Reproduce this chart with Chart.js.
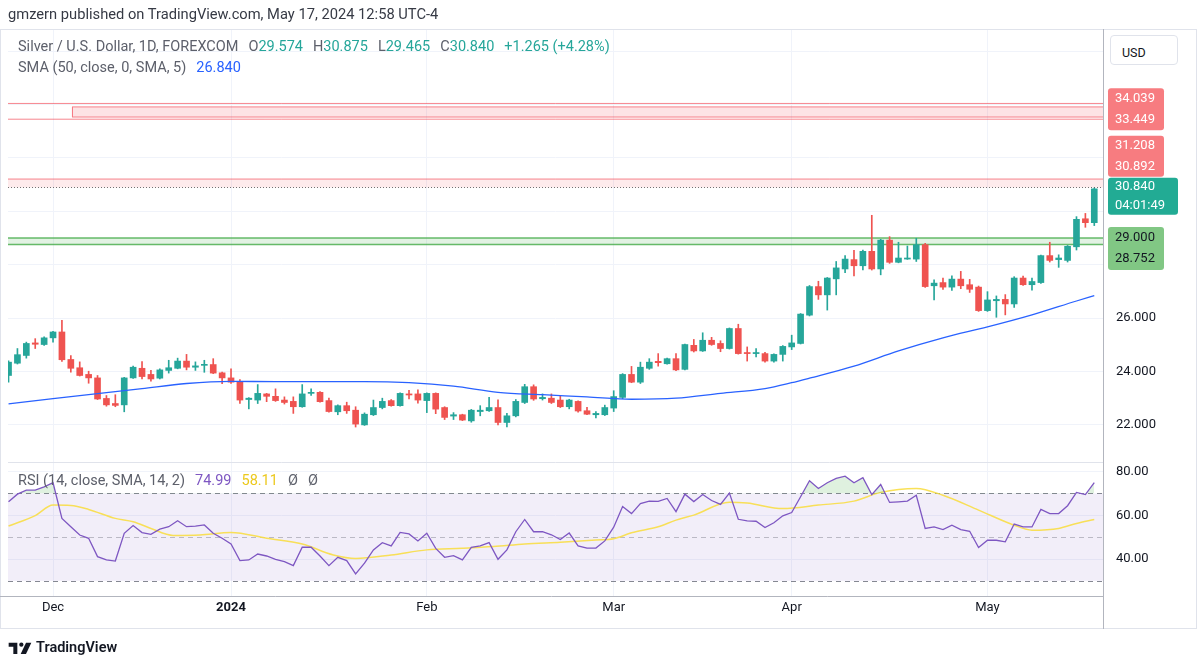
<!DOCTYPE html>
<html>
<head>
<meta charset="utf-8">
<title>XAGUSD 1D</title>
<script src="https://cdn.jsdelivr.net/npm/chart.js@4.4.1/dist/chart.umd.min.js"></script>
<style>
  body { margin: 0; background: #fff; font-family: Roboto, "Noto Sans", sans-serif; }
  #wrap { position: relative; width: 1197px; height: 668px; overflow: hidden; }
  #chart { position: absolute; left: 0; top: 0; }
  .t { position: absolute; white-space: nowrap; line-height: 1; }
  .t span + span { margin-left: 10px; }
  .gray { color: #5d606b; }
  .up { color: #26a69a; }
  .blue { color: #2962ff; }
  .purple { color: #7e57c2; }
  .yellow { color: #ecc91e; }
  .lg { font-size: 14.5px; }
  #usd { position: absolute; left: 1110px; top: 35px; width: 68px; height: 30px; box-sizing: border-box;
         border: 1px solid #e0e3eb; border-radius: 4px; background: #fff; font-size: 12.5px; color: #131722;
         padding: 9px 0 0 11px; }
</style>
</head>
<body>
<div id="wrap">
  <canvas id="chart" width="1197" height="668"></canvas>

  <div class="t" style="left:8px;top:7px;font-size:14.7px;color:#363a45">gmzern published on TradingView.com, May 17, 2024 12:58 UTC-4</div>

  <div class="t gray lg" style="left:18px;top:40px"><span>Silver / U.S. Dollar, 1D, FOREXCOM</span><span>O<b class="up" style="font-weight:normal">29.574</b></span><span>H<b class="up" style="font-weight:normal">30.875</b></span><span>L<b class="up" style="font-weight:normal">29.465</b></span><span>C<b class="up" style="font-weight:normal">30.840</b></span><span class="up">+1.265 (+4.28%)</span></div>
  <div class="t gray lg" style="left:18px;top:61px"><span>SMA (50, close, 0, SMA, 5)</span><span class="blue">26.840</span></div>

  <div class="t gray lg" style="left:18px;top:474px"><span>RSI (14, close, SMA, 14, 2)</span><span class="purple">74.99</span><span class="yellow">58.11</span><span>Ø</span><span>Ø</span></div>

  <div id="usd">USD</div>

  <div class="t" style="left:8px;top:641px">
    <svg width="24" height="14" viewBox="0 0 36 20"><path d="M14 2H1v6h7v11h6V2z" fill="#131722"/><circle cx="20" cy="5" r="3.2" fill="#131722"/><path d="M27 2h8l-8 17h-8z" fill="#131722"/></svg>
  </div>
  <div class="t" style="left:36px;top:641px;font-size:14.5px;font-weight:600;color:#131722">TradingView</div>
</div>

<script>
// daily candles, Nov 24 2023 .. May 17 2024 (index 0..122)
const opens = [23.85, 24.31, 24.60, 25.07, 25.01, 25.26, 25.48, 24.45, 24.14, 23.89,
  23.76, 22.99, 22.80, 22.75, 23.76, 24.12, 23.89, 23.75, 24.04, 24.12,
  24.39, 24.16, 24.23, 24.26, 23.95, 23.76, 23.63, 22.95, 22.93, 23.16,
  23.07, 22.93, 22.88, 22.68, 23.18, 23.22, 22.91, 22.49, 22.72, 22.55,
  22.00, 22.38, 22.65, 22.91, 22.72, 23.16, 23.16, 22.91, 23.18, 22.65,
  22.33, 22.38, 22.15, 22.50, 22.53, 22.65, 22.09, 22.34, 22.84, 23.43,
  22.98, 23.00, 22.93, 22.68, 22.88, 22.53, 22.38, 22.38, 22.63, 23.03,
  23.89, 23.60, 24.12, 24.38, 24.29, 24.48, 24.08, 24.98, 24.77, 25.17,
  25.05, 24.86, 25.61, 24.71, 24.67, 24.67, 24.39, 24.64, 24.92, 25.05,
  26.11, 27.18, 26.87, 27.47, 27.84, 28.19, 27.96, 28.50, 27.84, 28.92,
  28.09, 28.21, 28.21, 28.75, 27.21, 27.33, 27.16, 27.46, 27.25, 27.16,
  26.28, 26.65, 26.70, 26.53, 27.50, 27.25, 27.33, 28.34, 28.19, 28.16,
  28.67, 29.72, 29.574];
const highs = [24.40, 24.86, 25.10, 25.23, 25.30, 25.50, 25.92, 24.60, 24.36, 24.01,
  23.85, 23.10, 23.13, 23.78, 24.20, 24.37, 24.04, 24.10, 24.42, 24.50,
  24.64, 24.36, 24.42, 24.48, 23.98, 24.10, 23.70, 23.02, 23.51, 23.18,
  23.35, 23.05, 23.05, 23.51, 23.35, 23.25, 23.00, 22.75, 22.85, 22.68,
  22.45, 22.93, 23.00, 22.95, 23.20, 23.29, 23.31, 23.20, 23.20, 22.68,
  22.46, 22.40, 22.58, 22.72, 23.03, 22.94, 22.43, 22.95, 23.52, 23.50,
  23.16, 23.16, 23.10, 22.96, 22.90, 22.66, 22.50, 22.74, 23.28, 23.92,
  24.19, 24.35, 24.48, 24.67, 24.50, 24.67, 25.03, 25.20, 25.45, 25.28,
  25.15, 25.63, 25.77, 24.92, 24.86, 24.72, 24.66, 24.97, 25.36, 26.17,
  27.22, 27.38, 27.52, 28.12, 28.34, 28.54, 28.55, 29.85, 28.95, 29.05,
  28.84, 28.70, 28.99, 28.80, 27.43, 27.50, 27.58, 27.75, 27.45, 27.20,
  26.99, 26.83, 26.88, 27.55, 27.57, 27.50, 28.36, 28.84, 28.37, 28.72,
  29.80, 29.92, 30.875];
const lows = [23.60, 24.28, 24.50, 24.86, 24.98, 25.10, 24.38, 23.97, 23.83, 23.56,
  22.95, 22.70, 22.68, 22.49, 23.74, 23.72, 23.64, 23.72, 23.94, 24.10,
  24.06, 24.04, 23.97, 23.92, 23.54, 23.55, 22.80, 22.60, 22.80, 22.87,
  22.88, 22.78, 22.43, 22.66, 23.10, 22.85, 22.48, 22.38, 22.43, 21.92,
  21.98, 22.35, 22.60, 22.70, 22.70, 22.97, 22.81, 22.46, 22.42, 22.20,
  22.20, 22.16, 22.10, 22.34, 22.50, 22.00, 21.92, 22.30, 22.80, 22.92,
  22.93, 22.80, 22.65, 22.60, 22.48, 22.38, 22.26, 22.35, 22.50, 22.98,
  23.58, 23.55, 24.08, 24.20, 24.27, 24.03, 24.06, 24.73, 24.75, 24.98,
  24.74, 24.84, 24.65, 24.39, 24.55, 24.35, 24.35, 24.39, 24.82, 25.03,
  26.08, 26.70, 26.30, 26.87, 27.70, 27.58, 27.80, 27.80, 27.62, 28.05,
  28.07, 28.20, 28.12, 27.15, 26.68, 27.07, 27.04, 27.10, 26.96, 26.25,
  26.25, 26.03, 26.12, 26.40, 27.22, 27.05, 27.30, 28.10, 27.90, 28.10,
  28.55, 29.40, 29.465];
const closes = [24.35, 24.63, 25.05, 25.02, 25.26, 25.48, 24.44, 24.12, 23.85, 23.76,
  22.97, 22.75, 22.73, 23.76, 24.16, 23.81, 23.72, 24.06, 24.14, 24.39,
  24.16, 24.21, 24.26, 23.94, 23.76, 23.60, 22.93, 23.00, 23.18, 23.07,
  22.91, 22.84, 22.68, 23.16, 23.22, 22.87, 22.50, 22.72, 22.53, 22.03,
  22.40, 22.65, 22.88, 22.72, 23.18, 23.12, 22.93, 23.18, 22.59, 22.28,
  22.38, 22.18, 22.55, 22.55, 22.65, 22.09, 22.34, 22.88, 23.43, 22.97,
  23.03, 22.84, 22.68, 22.93, 22.52, 22.40, 22.43, 22.65, 23.06, 23.89,
  23.60, 24.16, 24.35, 24.33, 24.48, 24.06, 25.01, 24.77, 25.17, 25.01,
  24.86, 25.61, 24.67, 24.67, 24.71, 24.39, 24.64, 24.94, 25.07, 26.15,
  27.18, 26.87, 27.50, 27.88, 28.21, 27.96, 28.50, 27.84, 28.92, 28.09,
  28.25, 28.25, 28.75, 27.18, 27.31, 27.16, 27.46, 27.21, 27.08, 26.28,
  26.68, 26.70, 26.53, 27.50, 27.25, 27.37, 28.34, 28.16, 28.25, 28.69,
  29.70, 29.574, 30.840];

// SMA(50) at these bar indices
const smaIdx = [0, 5, 10, 15, 20, 25, 30, 35, 40, 45, 50, 55, 60, 65, 70, 75, 80, 85, 88, 90, 95, 100, 105, 110, 115, 120, 122];
const smaVal = [22.79, 22.98, 23.17, 23.36, 23.55, 23.63, 23.62, 23.62, 23.62, 23.58, 23.45, 23.22, 23.13, 23.05, 22.96, 23.00, 23.18, 23.36, 23.58, 23.75, 24.20, 24.77, 25.26, 25.67, 26.12, 26.64, 26.84];

// RSI(14), one value per bar
const rsiVals = [66.2, 69.7, 71.5, 71.5, 73.0, 74.9, 58.6, 54.8, 51.0, 49.5,
  41.1, 39.6, 39.1, 51.8, 55.3, 52.1, 51.3, 53.7, 54.8, 57.5,
  54.8, 55.1, 55.6, 51.8, 49.5, 46.9, 39.3, 39.6, 42.3, 41.4,
  39.9, 38.8, 37.0, 45.4, 45.4, 41.4, 37.0, 40.8, 39.3, 33.2,
  38.1, 44.2, 47.5, 46.0, 52.2, 51.5, 48.3, 51.8, 44.9, 40.8,
  41.6, 39.6, 45.4, 46.0, 47.5, 39.9, 44.2, 52.5, 58.1, 52.5,
  52.5, 51.1, 48.9, 51.9, 46.0, 45.0, 45.0, 48.3, 54.6, 64.0,
  60.8, 65.4, 66.5, 66.4, 67.7, 61.7, 69.7, 66.3, 69.5, 66.8,
  65.0, 70.2, 58.2, 57.5, 57.3, 54.4, 56.6, 59.8, 61.3, 68.5,
  75.8, 72.3, 74.9, 76.9, 77.9, 74.9, 77.2, 69.5, 74.1, 65.9,
  66.2, 66.5, 69.2, 54.0, 54.7, 53.5, 55.5, 53.5, 52.7, 45.3,
  48.6, 48.6, 47.9, 56.0, 54.7, 54.7, 62.7, 60.8, 60.8, 64.4,
  70.5, 69.5, 74.99];

// RSI smoothing line (SMA 14) read at these bar indices
const rsiSmaIdx = [0, 3, 5, 7, 9, 12, 14, 16, 18.5, 21.5, 25, 29, 33, 36.5, 39, 43, 47, 51, 54.5, 58, 62, 66, 68, 70, 73, 75, 77, 81, 83, 87, 91, 95, 98, 102, 105, 109, 113, 115, 118, 120, 122];
const rsiSmaVal = [55.1, 59.9, 64.7, 64.5, 62.7, 58.6, 57.1, 54.0, 50.8, 51.0, 52.2, 49.5, 46.9, 41.9, 40.3, 41.9, 44.2, 44.9, 45.7, 46.9, 47.7, 48.7, 49.3, 52.0, 54.8, 57.8, 60.1, 66.0, 65.6, 63.1, 64.7, 66.5, 70.5, 72.3, 69.2, 62.4, 55.5, 53.2, 54.0, 56.3, 58.11];

const monthTickIdx = [5, 25, 47, 68, 88, 110];
const monthTickText = ['Dec', '2024', 'Feb', 'Mar', 'Apr', 'May'];
const priceTicks = [22, 24, 26, 28, 30, 32, 34, 36];
const priceTickShown = [22, 24, 26];
const rsiTicks = [40, 60, 80];
const rsiLevels = [70, 50, 30];

// drawn price zones
const zoneLow = [33.449, 30.892, 28.752];
const zoneHigh = [34.039, 31.208, 29.000];
const innerZone = [33.53, 33.91];
const innerZoneStart = 7.1;
const lastClose = 30.840;
const countdown = '04:01:49';

const UP = '#26a69a';
const DOWN = '#ef5350';
const candleColor = closes.map((c, i) => c >= opens[i] ? UP : DOWN);
const bars = closes.map((_, i) => i);

function hLine(ctx, x1, x2, py) {
    ctx.beginPath();
    ctx.moveTo(x1, py);
    ctx.lineTo(x2, py);
    ctx.stroke();
}

function tag(ctx, left, top, w, h, bg, fg, lines, rowH) {
    ctx.fillStyle = bg;
    ctx.beginPath();
    ctx.roundRect(left, top, w, h, 3);
    ctx.fill();
    ctx.fillStyle = fg;
    ctx.font = '13px Roboto';
    ctx.textAlign = 'left';
    ctx.textBaseline = 'middle';
    lines.forEach((s, k) => ctx.fillText(s, left + 7, top + rowH / 2 + k * rowH));
}

const paneDecor = {
    id: 'paneDecor',
    beforeDatasetsDraw(chart) {
        const {ctx, chartArea: a, scales: {x, y, rsi}} = chart;
        const w = a.right - a.left;
        ctx.save();
        ctx.beginPath();
        ctx.rect(a.left, a.top, w, a.bottom - a.top);
        ctx.clip();

        // RSI band and level lines
        const y70 = rsi.getPixelForValue(rsiLevels[0]);
        const y30 = rsi.getPixelForValue(rsiLevels[2]);
        ctx.fillStyle = 'rgba(126, 87, 194, 0.1)';
        ctx.fillRect(a.left, y70, w, y30 - y70);
        ctx.lineWidth = 1;
        ctx.setLineDash([5, 4]);
        rsiLevels.forEach((lv, k) => {
            ctx.strokeStyle = k === 1 ? 'rgba(120, 123, 134, 0.45)' : 'rgba(120, 123, 134, 0.9)';
            hLine(ctx, a.left, a.right, Math.round(rsi.getPixelForValue(lv)) + 0.5);
        });
        ctx.setLineDash([]);

        // zones
        zoneLow.forEach((lo, k) => {
            const top = y.getPixelForValue(zoneHigh[k]);
            const bot = y.getPixelForValue(lo);
            const green = k === 2;
            if (k !== 0) {
                ctx.fillStyle = green ? 'rgba(76, 175, 80, 0.16)' : 'rgba(242, 54, 69, 0.1)';
                ctx.fillRect(a.left, top, w, bot - top);
            }
            ctx.strokeStyle = green ? 'rgba(76, 175, 80, 0.85)' : 'rgba(242, 54, 69, 0.6)';
            ctx.lineWidth = green ? 1.5 : 1;
            hLine(ctx, a.left, a.right, top);
            if (k !== 1) hLine(ctx, a.left, a.right, bot);
        });
        const ix = x.getPixelForValue(innerZoneStart);
        const it = y.getPixelForValue(innerZone[1]);
        const ib = y.getPixelForValue(innerZone[0]);
        ctx.fillStyle = 'rgba(242, 54, 69, 0.14)';
        ctx.fillRect(ix, it, a.right - ix, ib - it);
        ctx.strokeStyle = 'rgba(242, 54, 69, 0.6)';
        ctx.lineWidth = 1;
        ctx.strokeRect(Math.round(ix) + 0.5, it, a.right - ix + 2, ib - it);
        ctx.restore();
    },
    afterDatasetsDraw(chart) {
        const {ctx, chartArea: a, scales: {y}} = chart;
        ctx.save();
        ctx.strokeStyle = 'rgba(70, 70, 70, 0.75)';
        ctx.lineWidth = 1;
        ctx.setLineDash([1, 2]);
        hLine(ctx, a.left, a.right, Math.round(y.getPixelForValue(zoneLow[1])) + 0.5);
        ctx.restore();
    },
    afterDraw(chart) {
        const {ctx, chartArea: a, scales: {y}} = chart;
        ctx.save();
        ctx.lineWidth = 1;
        // frame and separators
        ctx.strokeStyle = '#e0e3eb';
        ctx.strokeRect(0.5, 29.5, 1196, 599);
        hLine(ctx, a.left, a.right, Math.round(y.bottom) + 0.5);
        ctx.strokeStyle = '#b2b5be';
        hLine(ctx, 0, a.right, Math.round(a.bottom) + 0.5);
        ctx.beginPath();
        ctx.moveTo(Math.round(a.right) + 0.5, 29);
        ctx.lineTo(Math.round(a.right) + 0.5, 629);
        ctx.stroke();

        // price tags on the axis
        const tx = a.right + 5;
        const pLast = y.getPixelForValue(lastClose);
        const lastTop = pLast - 11;
        tag(ctx, tx, y.getPixelForValue(zoneLow[0]) - 31, 56, 42, '#f77c80', '#fff',
            [zoneHigh[0].toFixed(3), zoneLow[0].toFixed(3)], 21);
        tag(ctx, tx, lastTop - 42, 56, 41, '#f77c80', '#fff',
            [zoneHigh[1].toFixed(3), zoneLow[1].toFixed(3)], 20.5);
        tag(ctx, tx, lastTop, 70, 37, '#22ab94', '#fff',
            [lastClose.toFixed(3), countdown], 18.5);
        tag(ctx, tx, y.getPixelForValue(zoneHigh[2]) - 11, 56, 43, '#81c784', '#131722',
            [zoneHigh[2].toFixed(3), zoneLow[2].toFixed(3)], 21.5);
        ctx.restore();
    }
};

const ctx = document.getElementById('chart').getContext('2d');
const chart = new Chart(ctx, {
    type: 'bar',
    data: {
        datasets: [{
            label: 'wick',
            data: bars.map(i => ({x: i, y: [lows[i], highs[i]]})),
            backgroundColor: candleColor,
            barThickness: 1,
            grouped: false,
            yAxisID: 'y',
            order: 3,
        }, {
            label: 'body',
            data: bars.map(i => ({x: i, y: [opens[i], closes[i]]})),
            backgroundColor: candleColor,
            barThickness: 6,
            minBarLength: 1,
            grouped: false,
            yAxisID: 'y',
            order: 2,
        }, {
            type: 'line',
            label: 'SMA 50',
            data: smaIdx.map((v, k) => ({x: v, y: smaVal[k]})),
            borderColor: '#2962ff',
            borderWidth: 1.3,
            pointRadius: 0,
            tension: 0.4,
            cubicInterpolationMode: 'monotone',
            yAxisID: 'y',
            order: 1,
        }, {
            type: 'line',
            label: 'RSI',
            data: bars.map(i => ({x: i, y: rsiVals[i]})),
            borderColor: '#7e57c2',
            borderWidth: 1.3,
            pointRadius: 0,
            tension: 0,
            fill: {target: {value: 70}, above: 'rgba(76, 175, 80, 0.18)', below: 'rgba(0, 0, 0, 0)'},
            yAxisID: 'rsi',
            order: 0,
        }, {
            type: 'line',
            label: 'RSI SMA',
            data: rsiSmaIdx.map((v, k) => ({x: v, y: rsiSmaVal[k]})),
            borderColor: 'rgba(248, 222, 70, 0.9)',
            borderWidth: 1.5,
            pointRadius: 0,
            tension: 0.4,
            cubicInterpolationMode: 'monotone',
            yAxisID: 'rsi',
            order: 1,
        }]
    },
    options: {
        responsive: false,
        animation: false,
        layout: {padding: {left: 8, top: 30, right: 0, bottom: 41}},
        plugins: {legend: {display: false}, tooltip: {enabled: false}},
        scales: {
            x: {
                type: 'linear', min: -0.06, max: 122.98, offset: false,
                grid: {color: '#f0f3fa', offset: false, drawTicks: false},
                border: {display: false},
                afterBuildTicks: s => { s.ticks = monthTickIdx.map(v => ({value: v})); },
                afterFit: s => { s.height = 31; },
                ticks: {
                    autoSkip: false, maxRotation: 0, padding: 4, color: '#131722',
                    font: c => ({family: 'Roboto', size: 13, weight: c.tick && c.tick.value === 25 ? 'bold' : 'normal'}),
                    callback: v => monthTickText[monthTickIdx.indexOf(v)],
                },
            },
            y: {
                type: 'linear', position: 'right', stack: 'pane', stackWeight: 432,
                min: 20.61, max: 36.79,
                grid: {color: '#f0f3fa', drawTicks: false},
                border: {display: false},
                afterBuildTicks: s => { s.ticks = priceTicks.map(v => ({value: v})); },
                afterFit: s => { s.width = 94; },
                ticks: {padding: 13, color: '#131722', font: {family: 'Roboto', size: 13},
                        callback: v => priceTickShown.includes(v) ? v.toFixed(3) : ''},
            },
            rsi: {
                type: 'linear', position: 'right', stack: 'pane', stackWeight: 134,
                min: 23.1, max: 84.4,
                grid: {color: '#f0f3fa', drawTicks: false},
                border: {display: false},
                afterBuildTicks: s => { s.ticks = rsiTicks.map(v => ({value: v})); },
                afterFit: s => { s.width = 94; },
                ticks: {padding: 13, color: '#131722', font: {family: 'Roboto', size: 13}, callback: v => v.toFixed(2)},
            },
        },
    },
    plugins: [paneDecor],
});
</script>
</body>
</html>
